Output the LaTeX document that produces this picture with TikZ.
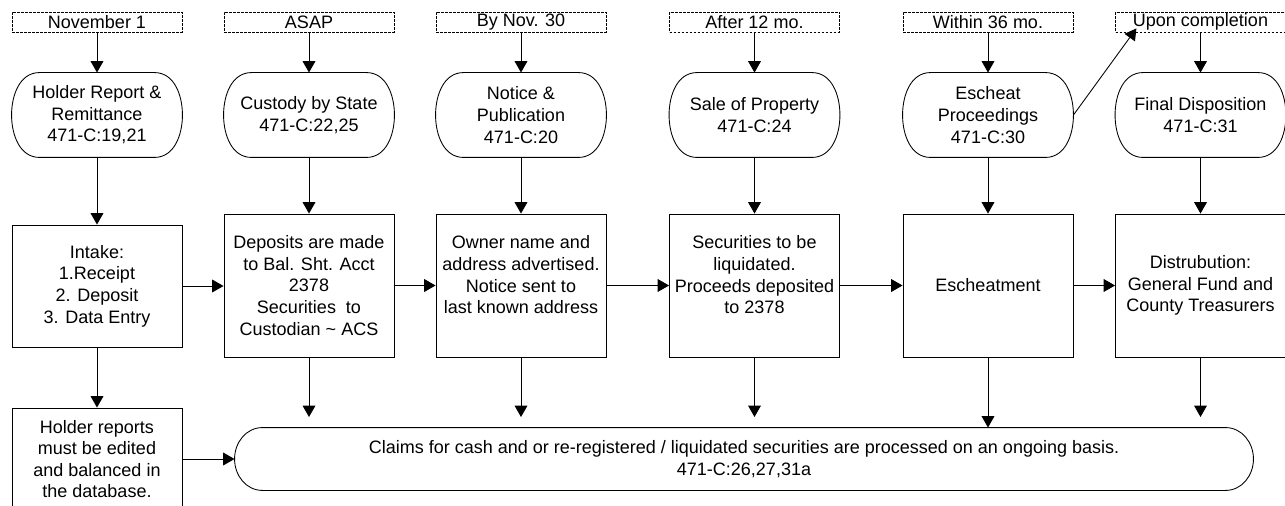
\documentclass[tikz,border=0pt]{standalone}
\usepackage{fontspec}
\setmainfont{Liberation Sans}
\usetikzlibrary{arrows.meta}

\newcommand\pillshape[1]{%
	\draw ([xshift=21pt]#1.north west) -- ([xshift=-21pt]#1.north east) to[out=0, in=90] (#1.east) to[out=-90, in=0] ([xshift=-21pt]#1.south east) -- ([xshift=21pt]#1.south west) to[out=180, in=-90] (#1.west) to[out=90, in=180] ([xshift=21pt]#1.north west) -- cycle;}

\begin{document}
\begin{tikzpicture}[x=0.75pt, y=-0.75pt, line width=0.65pt,
		font=\fontsize{13.5pt}{16.2pt}\selectfont,
		every node/.style={inner sep=0pt, align=center},
		datebox/.style={draw, dash pattern=on 2pt off 1pt, minimum width=127.5pt, minimum height=15pt},
		stagepill/.style={minimum width=127.5pt, minimum height=63pt},
		taskbox/.style={draw, minimum width=127.5pt, minimum height=107.25pt},
		flowarrow/.style={-{Triangle[width=9.5pt, length=8.5pt]}}]
		\useasboundingbox (0,0) rectangle (1285,506);
		\clip (0,0) rectangle (1285,506);
		
		\node [datebox] (d1) at (97,22) {November 1};
		\node [datebox] (d2) at (309,22) {ASAP};
		\node [datebox] (d3) at (521,22) {By Nov. 30};
		\node [datebox] (d4) at (754.5,22) {After 12 mo.};
		\node [datebox] (d5) at (988,22) {Within 36 mo.};
		\node [datebox] (d6) at (1200.5,22) {Upon completion};
		
		\node [stagepill] (s1) at (97,115) {Holder Report \&\\Remittance\\471-C:19,21};
		\node [stagepill] (s2) at (309,115) {Custody by State\\471-C:22,25};
		\node [stagepill] (s3) at (521,115) {Notice \&\\Publication\\471-C:20};
		\node [stagepill] (s4) at (754.5,115) {Sale of Property\\471-C:24};
		\node [stagepill] (s5) at (988,115) {Escheat\\Proceedings\\471-C:30};
		\node [stagepill] (s6) at (1200.5,115) {Final Disposition\\471-C:31};
		\pillshape{s1}
		\pillshape{s2}
		\pillshape{s3}
		\pillshape{s4}
		\pillshape{s5}
		\pillshape{s6}
		
		\node [taskbox, minimum height=91.5pt] (m1) at (97,286) {Intake:\\1.Receipt\\2. Deposit\\3. Data Entry};
		\node [taskbox] (m2) at (309,285.5) {Deposits are made\\to Bal. Sht. Acct\\2378\\Securities~ to\\Custodian \textasciitilde{} ACS};
		\node [taskbox] (m3) at (521,285.5) {Owner name and\\address advertised.\\Notice sent to\\last known address\\\mbox{}};
		\node [taskbox] (m4) at (754.5,285.5) {Securities to be\\liquidated.\\Proceeds deposited\\to 2378\\\mbox{}};
		\node [taskbox] (m5) at (988,285.5) {Escheatment};
		\node [taskbox] (m6) at (1200.5,285.5) {Distrubution:\\General Fund and\\County Treasurers};
		
		\node [draw, minimum width=127.5pt, minimum height=76.5pt] (hold) at (97,459) {Holder reports\\must be edited\\and balanced in\\the database.};
		\node [minimum width=763.5pt, minimum height=46.5pt] (claims) at (744,459) {Claims for cash and or re-registered / liquidated securities are processed on an ongoing basis.\\471-C:26,27,31a};
		\pillshape{claims}
		
		\coordinate (e2) at (309,417);
		\coordinate (e3) at (521,417);
		\coordinate (e4) at (754.5,417);
		\coordinate (e6) at (1200.5,417);
		
		\draw [flowarrow] (d1) -- (s1);
		\draw [flowarrow] (d2) -- (s2);
		\draw [flowarrow] (d3) -- (s3);
		\draw [flowarrow] (d4) -- (s4);
		\draw [flowarrow] (d5) -- (s5);
		\draw [flowarrow] (d6) -- (s6);
		\draw [flowarrow] (s5.east) -- ([xshift=16pt, yshift=3pt]d6.south west);
		
		\draw [flowarrow] (s1) -- (m1);
		\draw [flowarrow] (s2) -- (m2);
		\draw [flowarrow] (s3) -- (m3);
		\draw [flowarrow] (s4) -- (m4);
		\draw [flowarrow] (s5) -- (m5);
		\draw [flowarrow] (s6) -- (m6);
		
		\draw [flowarrow] (m1.east) -- (m1.east -| m2.west);
		\draw [flowarrow] (m2) -- (m3);
		\draw [flowarrow] (m3) -- (m4);
		\draw [flowarrow] (m4) -- (m5);
		\draw [flowarrow] (m5) -- (m6);
		
		\draw [flowarrow] (m1) -- (hold);
		\draw [flowarrow] (hold) -- (claims);
		\draw [flowarrow] (m2) -- (e2);
		\draw [flowarrow] (m3) -- (e3);
		\draw [flowarrow] (m4) -- (e4);
		\draw [flowarrow] (m5) -- (m5 |- claims.north);
		\draw [flowarrow] (m6) -- (e6);
		
\end{tikzpicture}
\end{document}
